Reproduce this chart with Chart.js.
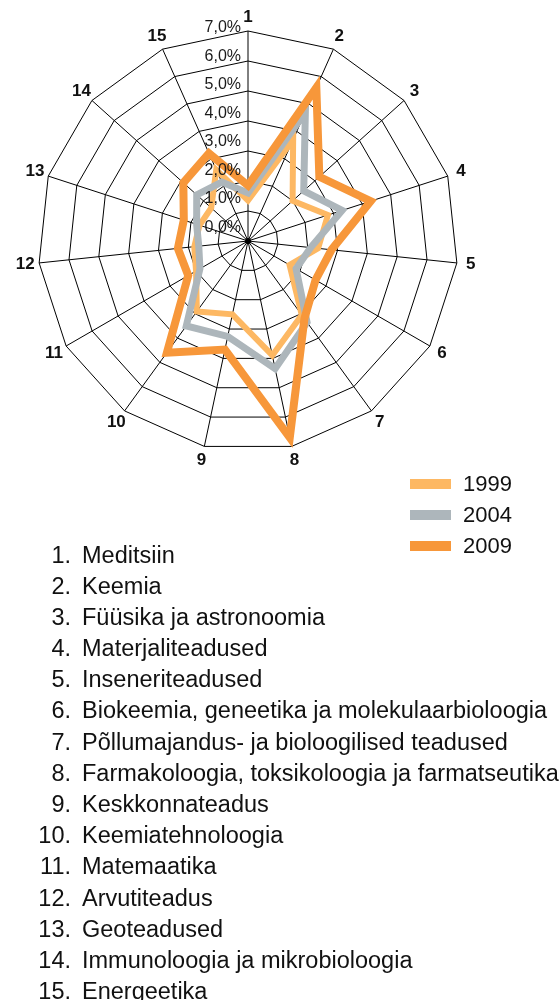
<!DOCTYPE html>
<html>
<head>
<meta charset="utf-8">
<script src="https://cdn.jsdelivr.net/npm/chart.js@4.4.1/dist/chart.umd.min.js"></script>
<style>
  html, body { margin: 0; padding: 0; background: #fff; }
  body { width: 560px; height: 1000px; position: relative; overflow: hidden;
         font-family: "Liberation Sans", Arial, Helvetica, sans-serif; color: #111; }
  #chartBox { position: absolute; left: 0; top: 0; width: 560px; height: 560px; }
  #fields { position: absolute; left: 0; top: 539.5px; margin: 0; padding: 0; list-style: none;
            font-size: 23.5px; line-height: 31.2px; }
  #fields li { position: relative; height: 31.2px; white-space: nowrap; }
  #fields .num { position: absolute; left: 0; width: 71px; text-align: right; }
  #fields .txt { position: absolute; left: 82px; }
</style>
</head>
<body>
<div id="chartBox"><canvas id="radar" width="560" height="560"></canvas></div>
<ul id="fields"></ul>
<script>
// Axis numbers around the web and the research fields they stand for
const axisLabels = ['1','2','3','4','5','6','7','8','9','10','11','12','13','14','15'];
const fieldNames = [
  'Meditsiin',
  'Keemia',
  'Füüsika ja astronoomia',
  'Materjaliteadused',
  'Inseneriteadused',
  'Biokeemia, geneetika ja molekulaarbioloogia',
  'Põllumajandus- ja bioloogilised teadused',
  'Farmakoloogia, toksikoloogia ja farmatseutika',
  'Keskkonnateadus',
  'Keemiatehnoloogia',
  'Matemaatika',
  'Arvutiteadus',
  'Geoteadused',
  'Immunoloogia ja mikrobioloogia',
  'Energeetika'
];

// Shares per field (%), one array per year
const share1999 = [1.35, 3.7, 2.0, 2.8, 2.35, 1.6, 3.05, 3.9, 2.5, 2.9, 2.0, 1.8, 1.7, 1.65, 2.6];
const share2004 = [1.6, 4.7, 2.5, 3.3, 2.1, 1.85, 3.35, 4.35, 3.25, 3.5, 1.85, 1.65, 1.8, 2.3, 2.15];
const share2009 = [1.85, 5.6, 3.2, 4.3, 2.8, 2.6, 3.2, 6.7, 3.7, 4.6, 2.3, 2.35, 2.25, 2.9, 3.2];

// Radial scale range (%)
const scaleMin = 0;
const scaleMax = 7;
const scaleStep = 1;

const FONT = '"Liberation Sans", Arial, Helvetica, sans-serif';
Chart.defaults.font.family = FONT;

function pct(v) { return v.toFixed(1).replace('.', ',') + '%'; }

// Field list under the chart
const list = document.getElementById('fields');
fieldNames.forEach((name, i) => {
  const li = document.createElement('li');
  li.innerHTML = '<span class="num">' + (i + 1) + '.</span><span class="txt"></span>';
  li.querySelector('.txt').textContent = name;
  list.appendChild(li);
});

// Draws the tick values, axis numbers, hub dot and the legend
const decorations = {
  id: 'decorations',
  afterDraw(chart) {
    const s = chart.scales.r;
    const ctx = chart.ctx;
    ctx.save();

    ctx.beginPath();
    ctx.arc(s.xCenter, s.yCenter, 3, 0, Math.PI * 2);
    ctx.fillStyle = '#000';
    ctx.fill();

    ctx.font = '16px ' + FONT;
    ctx.fillStyle = '#1a1a1a';
    ctx.textAlign = 'right';
    ctx.textBaseline = 'alphabetic';
    s.ticks.forEach(t => {
      const d = s.getDistanceFromCenterForValue(t.value);
      ctx.fillText(pct(t.value), s.xCenter - 7, s.yCenter - d * 0.952 - 9);
    });

    ctx.font = 'bold 17px ' + FONT;
    ctx.fillStyle = '#111';
    ctx.textAlign = 'center';
    ctx.textBaseline = 'middle';
    chart.data.labels.forEach((lab, i) => {
      const p = s.getPointPosition(i, s.drawingArea + 14);
      ctx.fillText(lab, p.x, p.y);
    });

    ctx.font = '22px ' + FONT;
    ctx.textAlign = 'left';
    chart.data.datasets.forEach((ds, i) => {
      const y = 484 + i * 31;
      ctx.fillStyle = ds.borderColor;
      ctx.fillRect(410, y - 5, 41, 10);
      ctx.fillStyle = '#111';
      ctx.fillText(ds.label, 463, y + 1);
    });
    ctx.restore();
  }
};

new Chart(document.getElementById('radar'), {
  type: 'radar',
  data: {
    labels: axisLabels,
    datasets: [
      { label: '1999', data: share1999, borderColor: '#FDB863', borderWidth: 6, order: 2 },
      { label: '2004', data: share2004, borderColor: '#ADB6BB', borderWidth: 7, order: 1 },
      { label: '2009', data: share2009, borderColor: '#F7973A', borderWidth: 8, order: 0 }
    ]
  },
  options: {
    responsive: false,
    animation: false,
    layout: { padding: { left: 38, top: 31, right: 102, bottom: 109 } },
    elements: {
      line: { fill: false, tension: 0, borderJoinStyle: 'miter' },
      point: { radius: 0, hoverRadius: 0 }
    },
    plugins: { legend: { display: false }, tooltip: { enabled: false } },
    scales: {
      r: {
        min: scaleMin,
        max: scaleMax,
        ticks: { stepSize: scaleStep, display: false },
        grid: { color: '#000', lineWidth: 1 },
        angleLines: { color: '#000', lineWidth: 1 },
        pointLabels: { display: false }
      }
    }
  },
  plugins: [decorations]
});
</script>
</body>
</html>
